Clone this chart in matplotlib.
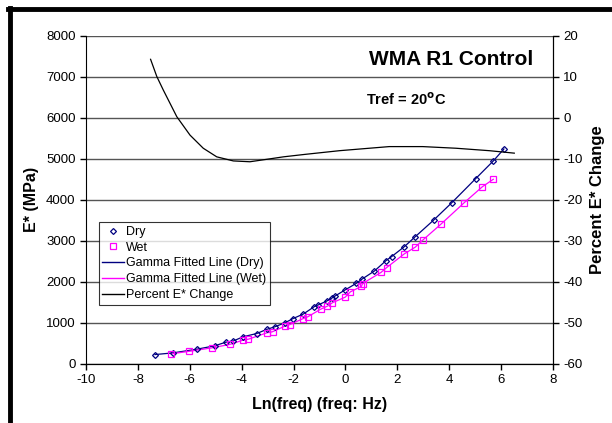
import matplotlib
matplotlib.use('Agg')
import matplotlib.pyplot as plt
from matplotlib.lines import Line2D

plt.rcParams['font.family'] = ['Liberation Sans', 'DejaVu Sans']
plt.rcParams['axes.unicode_minus'] = False

# E* measured values (MPa) against ln(freq)
dry_x = [-7.34, -6.66, -5.73, -5.03, -4.62, -4.32, -3.94, -3.42, -3.03, -2.71,
         -2.33, -2.03, -1.62, -1.21, -1.06, -0.72, -0.50, -0.40, -0.02, 0.42,
         0.65, 1.12, 1.57, 1.78, 2.27, 2.69, 3.40, 4.10, 5.02, 5.70, 6.11]
dry_y = [225, 265, 355, 440, 525, 557, 660, 738, 840, 905,
         1000, 1100, 1215, 1390, 1433, 1531, 1611, 1653, 1799, 1963,
         2070, 2265, 2520, 2615, 2857, 3100, 3505, 3930, 4517, 4949, 5242]

wet_x = [-6.71, -6.03, -5.13, -4.45, -3.94, -3.74, -3.03, -2.81, -2.33, -2.14,
         -1.64, -1.44, -0.96, -0.70, -0.50, -0.01, 0.19, 0.62, 0.66, 1.37,
         1.59, 2.27, 2.69, 2.98, 3.67, 4.58, 5.28, 5.70]
wet_y = [244, 303, 391, 473, 579, 600, 755, 781, 920, 957,
         1100, 1150, 1330, 1405, 1490, 1625, 1755, 1890, 1958, 2228,
         2348, 2682, 2845, 3017, 3400, 3931, 4321, 4502]

# percent E* change (right axis)
pct_x = [-7.51, -7.27, -7.02, -6.50, -5.99, -5.48, -4.96, -4.32, -3.68, -3.03,
         -2.39, -1.56, -0.23, 1.69, 2.98, 4.26, 5.55, 6.51]
pct_y = [14.3, 10.1, 6.8, 0.3, -4.2, -7.4, -9.5, -10.5, -10.7, -10.1,
         -9.5, -8.9, -8.0, -7.0, -7.0, -7.4, -8.0, -8.6]

fig = plt.figure(figsize=(6.12, 4.23), dpi=100)
ax = fig.add_axes([0.1405, 0.140, 0.763, 0.775])
ax2 = ax.twinx()

navy = '#000080'
mag = '#FF00FF'

ax.plot(dry_x, dry_y, color=navy, lw=0.9, zorder=3)
ax.plot(wet_x, wet_y, color=mag, lw=0.9, zorder=3)
ax.plot(dry_x, dry_y, ls='none', marker='D', ms=3, mfc='none', mec=navy, mew=0.9, zorder=4)
ax.plot(wet_x, wet_y, ls='none', marker='s', ms=4.2, mfc='none', mec=mag, mew=0.9, zorder=4)
ax2.plot(pct_x, pct_y, color='black', lw=0.9)

ax.set_xlim(-10, 8)
ax.set_ylim(0, 8000)
ax2.set_ylim(-60, 20)
ax.set_xticks(range(-10, 9, 2))
ax.set_yticks(range(0, 8001, 1000))
ax2.set_yticks(range(-60, 21, 10))

ax.yaxis.grid(True, color='#555555', lw=1)
ax.set_axisbelow(True)
for a in (ax, ax2):
    a.spines['top'].set_visible(False)
    for s in ('left', 'right', 'bottom'):
        a.spines[s].set_color('black')
    a.tick_params(direction='out', length=4, width=1, labelsize=9.5, colors='black')
ax2.spines['left'].set_visible(False)

ax.set_xlabel('Ln(freq) (freq: Hz)', fontsize=11.5, fontweight='bold', labelpad=8)
ax.set_ylabel('E* (MPa)', fontsize=11.5, fontweight='bold', labelpad=5)
ax2.set_ylabel('Percent E* Change', fontsize=12, fontweight='bold', labelpad=5)

ax.text(0.957, 0.927, 'WMA R1 Control', transform=ax.transAxes, ha='right', va='center',
        fontsize=15, fontweight='bold')
ax.text(0.60, 0.806, r'Tref = 20$^{\mathbf{o}}$C', transform=ax.transAxes, ha='left', va='center',
        fontsize=10.5, fontweight='bold')

handles = [
    Line2D([], [], ls='none', marker='D', ms=3, mfc='none', mec=navy, mew=0.9),
    Line2D([], [], ls='none', marker='s', ms=4.2, mfc='none', mec=mag, mew=0.9),
    Line2D([], [], color=navy, lw=1),
    Line2D([], [], color=mag, lw=1),
    Line2D([], [], color='black', lw=1),
]
labels = ['Dry', 'Wet', 'Gamma Fitted Line (Dry)', 'Gamma Fitted Line (Wet)', 'Percent E* Change']
leg = ax2.legend(handles, labels, loc='upper left', bbox_to_anchor=(0.027, 0.432),
                 fontsize=9, frameon=True, fancybox=False, edgecolor='black',
                 handlelength=1.7, handletextpad=0.2, borderpad=0.3, labelspacing=0.3,
                 borderaxespad=0)
leg.get_frame().set_linewidth(0.8)

# figure frame (top and left)
fig.add_artist(Line2D([0.013, 1.0], [0.978, 0.978], transform=fig.transFigure, color='black', lw=3.5))
fig.add_artist(Line2D([0.0163, 0.0163], [0.0, 0.98], transform=fig.transFigure, color='black', lw=3.5))

fig.savefig('out.png', dpi=100)
